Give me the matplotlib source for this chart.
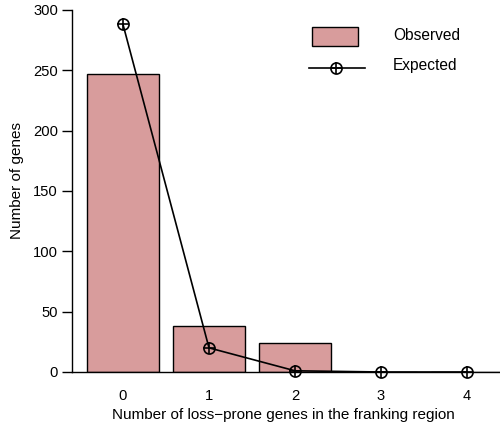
import numpy as np
import matplotlib.pyplot as plt
from matplotlib.patches import Rectangle
from matplotlib.lines import Line2D

plt.rcParams['font.family'] = ['Liberation Sans', 'DejaVu Sans']

# Counts per number of loss-prone genes in the flanking region
categories = ['0', '1', '2', '3', '4']
observed = [247, 38, 24, 0, 0]
expected = [288, 20, 1, 0, 0]

bar_color = '#d89c9c'
x = np.arange(len(categories))

fig = plt.figure(figsize=(5, 4.3), dpi=100)
ax = fig.add_axes([0.144, 0.1349, 0.856, 0.8419])

ax.bar(x, observed, width=0.833, color=bar_color, edgecolor='black', linewidth=1.0, zorder=2)
ax.plot(x, expected, color='black', lw=1.2, zorder=3, clip_on=False)
ax.plot(x, expected, 'o', ms=8, mfc='none', mec='black', mew=1.2, zorder=4, clip_on=False)
ax.plot(x, expected, '+', ms=8, mec='black', mew=1.2, zorder=4, clip_on=False)

ax.set_xlim(-0.593, 4.384)
ax.set_ylim(0, 300)

for s in ['top', 'right']:
    ax.spines[s].set_visible(False)
ax.spines['left'].set_linewidth(1.0)
ax.spines['bottom'].set_linewidth(1.0)

ax.set_yticks(np.arange(0, 301, 50))
ax.tick_params(axis='y', direction='out', length=7, width=1.0, labelsize=10.6, pad=3)
ax.set_xticks(x)
ax.set_xticklabels(categories)
ax.tick_params(axis='x', length=0, labelsize=10.6, pad=12)

ax.set_ylabel('Number of genes', fontsize=11.0)
ax.set_xlabel('Number of loss\u2212prone genes in the franking region', fontsize=11.0)
ax.yaxis.set_label_coords(-0.112, 0.53)
ax.xaxis.set_label_coords(0.493, -0.0995)

# Legend drawn by hand in figure pixels
W, H = 500, 430
fig.patches.append(Rectangle((312 / W, 1 - 46 / H), 46 / W, 19 / H, transform=fig.transFigure,
                             facecolor=bar_color, edgecolor='black', lw=1.0))
fig.text(393 / W, 1 - 35.5 / H, 'Observed', fontsize=11.2, va='center')
fig.lines.append(Line2D([309 / W, 365 / W], [1 - 68 / H] * 2, transform=fig.transFigure,
                        color='black', lw=1.2))
for m in ['o', '+']:
    fig.lines.append(Line2D([336 / W], [1 - 68 / H], transform=fig.transFigure, marker=m, ms=8,
                            mfc='none', mec='black', mew=1.2, ls='none'))
fig.text(393 / W, 1 - 65.5 / H, 'Expected', fontsize=11.2, va='center')

fig.savefig('out.png', dpi=100)
